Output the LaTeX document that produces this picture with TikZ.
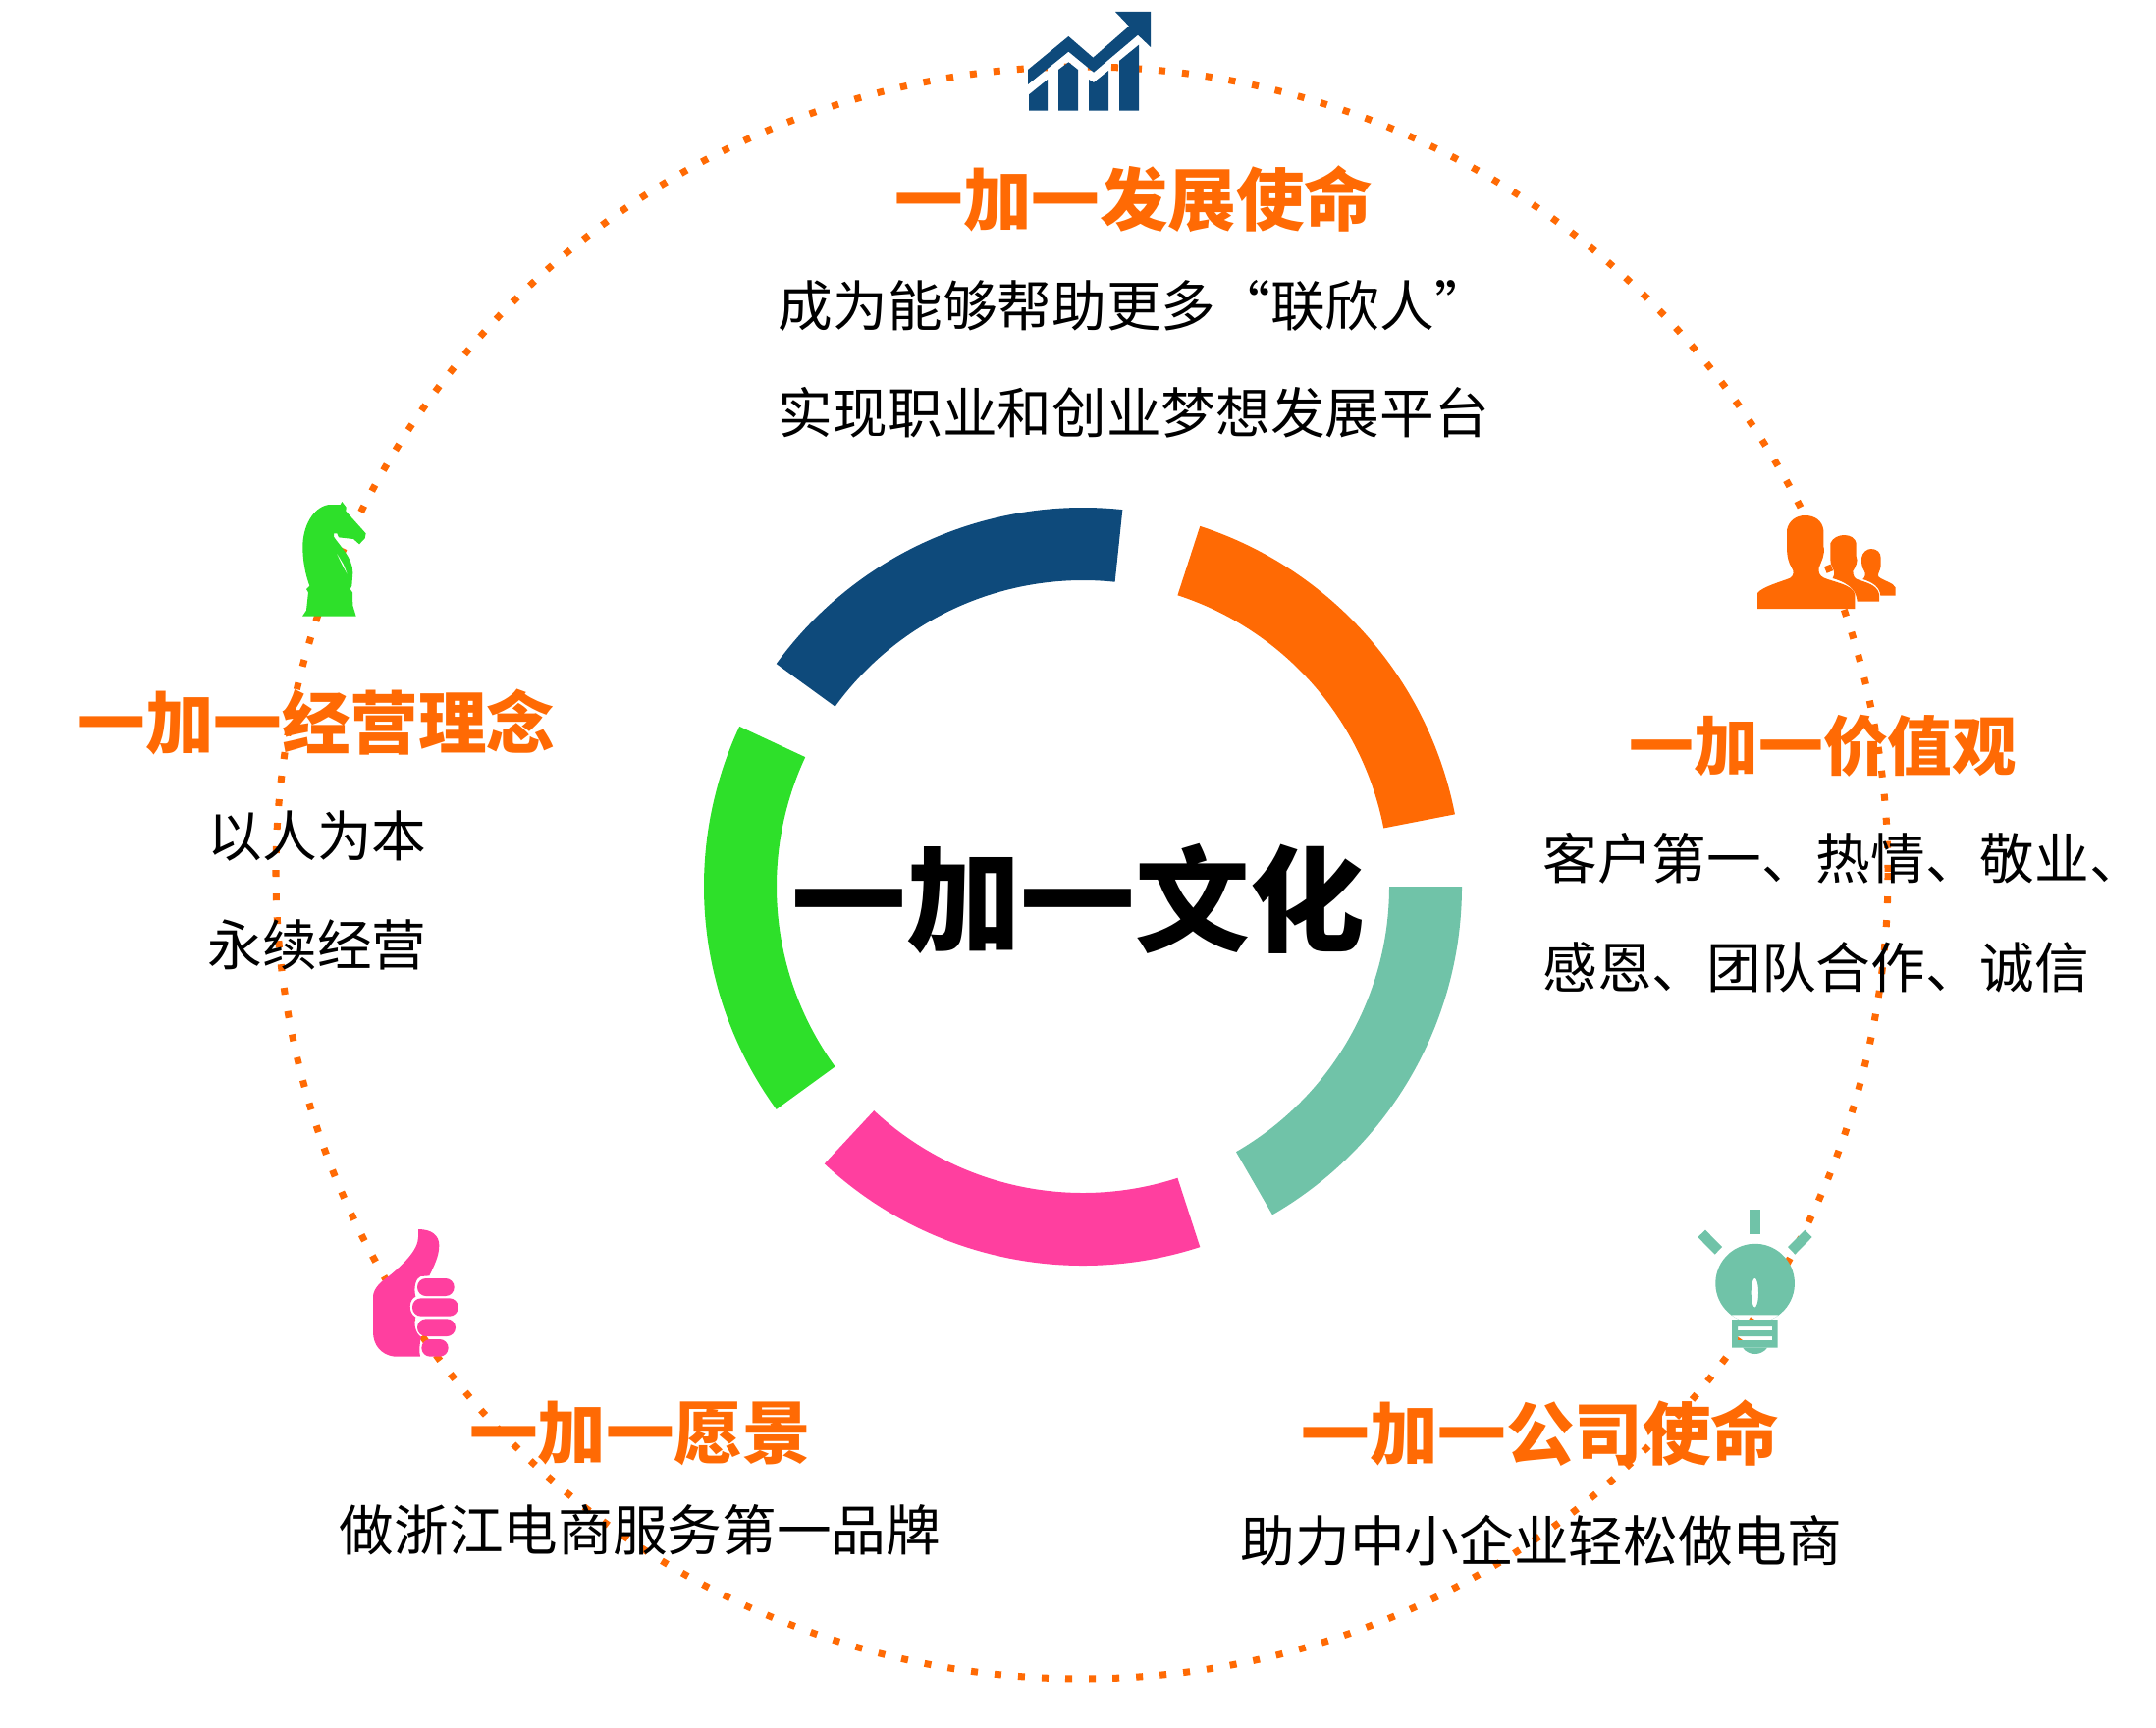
\documentclass[tikz,border=0pt]{standalone}
\usepackage{fontspec}
\newfontfamily\cjk{Noto Sans CJK SC}
\definecolor{dotorange}{HTML}{FF6A04}
\definecolor{ringblue}{HTML}{0E4A7B}
\definecolor{ringteal}{HTML}{70C3A8}
\definecolor{ringpink}{HTML}{FF3F9F}
\definecolor{ringgreen}{HTML}{2EE02A}
\tikzset{
  headtext/.style={inner sep=0pt,text=dotorange,font=\cjk\bfseries\fontsize{39.6}{48}\selectfont},
  bodytext/.style={inner sep=0pt,text=black,font=\cjk\fontsize{31.7}{38}\selectfont},
  titletext/.style={inner sep=0pt,text=black,font=\cjk\bfseries\fontsize{66.4}{80}\selectfont},
}
\begin{document}
\begin{tikzpicture}[x=.02cm,y=-.02cm]
  \useasboundingbox (0,0) rectangle (2196,1760);
  % dotted circle
  \draw[dotorange,line width=4pt,dash pattern=on 4pt off 9.7pt] (1102,889) circle[radius=821];
  % ring
  \begin{scope}[shift={(1103,903)}]
    \foreach \a/\b/\c in {11/72/dotorange,84/144/ringblue,155/216/ringgreen,227/288/ringpink,300/360/ringteal}{
      \fill[\c] (-\a:386) arc[start angle=-\a,end angle=-\b,radius=386]
        -- (-\b:312) arc[start angle=-\b,end angle=-\a,radius=312] -- cycle;
    }
  \end{scope}
  % chart icon
  \begin{scope}[shift={(1000,0)},scale=1/3]
    \fill[ringblue] (141,213) -- (265,111) -- (340,176) -- (450,80) -- (408,36) -- (516,36) -- (516,144)
      -- (477,107) -- (342,221) -- (265,158) -- (141,258) -- cycle;
    \fill[ringblue] (144,338) -- (144,289) -- (201,243) -- (201,338) -- cycle;
    \fill[ringblue] (234,338) -- (234,213) -- (265,190) -- (294,213) -- (294,338) -- cycle;
    \fill[ringblue] (327,338) -- (327,243) -- (342,252) -- (387,216) -- (387,338) -- cycle;
    \fill[ringblue] (420,338) -- (420,186) -- (480,137) -- (480,338) -- cycle;
  \end{scope}
  % people icon
  \begin{scope}[shift={(1770,510)},scale=1/3]
    \fill[dotorange] (60,330) -- (60,282) .. controls (75,262) and (140,245) .. (160,236)
      .. controls (172,228) and (172,215) .. (165,205) .. controls (155,190) and (150,170) .. (150,140)
      -- (150,90) .. controls (155,60) and (180,45) .. (205,45) .. controls (235,45) and (258,60) .. (262,90)
      -- (262,140) .. controls (268,165) and (255,185) .. (248,205) .. controls (245,220) and (252,230) .. (262,235)
      .. controls (290,248) and (350,255) .. (358,285) -- (358,330) -- cycle;
    \fill[dotorange] (365,308) .. controls (362,280) and (350,255) .. (290,237)
      .. controls (296,228) and (296,222) .. (292,210) .. controls (283,195) and (283,185) .. (283,170)
      -- (283,130) .. controls (290,112) and (310,105) .. (325,105) .. controls (345,105) and (360,115) .. (362,130)
      -- (362,170) .. controls (370,185) and (358,205) .. (352,215) .. controls (352,230) and (358,238) .. (365,240)
      .. controls (390,250) and (425,255) .. (432,285) -- (432,308) -- cycle;
    \fill[dotorange] (436,290) .. controls (434,265) and (415,250) .. (382,240)
      .. controls (390,232) and (392,222) .. (385,212) .. controls (378,200) and (378,190) .. (378,175)
      .. controls (380,158) and (395,147) .. (407,147) .. controls (425,147) and (437,158) .. (437,175)
      -- (437,200) .. controls (435,215) and (425,225) .. (430,232) .. controls (445,245) and (475,250) .. (482,265)
      -- (482,290) -- cycle;
  \end{scope}
  % bulb icon
  \begin{scope}[shift={(1710,1220)},scale=1/3]
    \fill[ringteal] (216,36) rectangle (248,110);
    \fill[ringteal] (58,120) -- (81,98) -- (132,150) -- (110,173) -- cycle;
    \fill[ringteal] (333,150) -- (385,98) -- (407,120) -- (355,173) -- cycle;
    \fill[ringteal,even odd rule] (160,358) arc[start angle=127,end angle=-307,radius=121] -- cycle
      (232,290) ellipse[x radius=11,y radius=45];
    \fill[ringteal,even odd rule] (162,372) rectangle (302,458)
      (180,393) rectangle (285,405) (180,423) rectangle (285,435);
    \fill[ringteal] (195,458) .. controls (205,472) and (220,477) .. (232,477) .. controls (245,477) and (260,472) .. (270,458) -- cycle;
  \end{scope}
  % thumb icon
  \begin{scope}[shift={(360,1240)},scale=1/3]
    \fill[ringpink] (198,36) .. controls (240,36) and (262,55) .. (262,85) .. controls (262,120) and (245,150) .. (232,178)
      -- (205,180) .. controls (190,185) and (183,215) .. (190,242) .. controls (170,250) and (165,290) .. (190,305)
      .. controls (183,325) and (190,355) .. (207,365) .. controls (202,385) and (200,410) .. (204,425)
      -- (125,425) .. controls (85,420) and (60,390) .. (60,350) -- (60,240) .. controls (62,215) and (85,195) .. (110,178)
      .. controls (150,145) and (198,100) .. (198,60) -- cycle;
    \fill[ringpink,rounded corners=5pt] (195,186) rectangle (308,240);
    \fill[ringpink,rounded corners=5pt] (180,247) rectangle (320,302);
    \fill[ringpink,rounded corners=5pt] (195,310) rectangle (312,363);
    \fill[ringpink,rounded corners=5pt] (208,372) rectangle (290,425);
  \end{scope}
  % knight icon
  \begin{scope}[shift={(290,500)},scale=1/3]
    \fill[ringgreen,even odd rule] (54,383) -- (66,365) -- (72,310) -- (66,300) -- (76,290)
      .. controls (65,260) and (55,220) .. (55,170) .. controls (55,110) and (85,50) .. (135,42)
      -- (170,42) -- (175,33) -- (188,50) -- (187,62) -- (248,130) -- (245,145) -- (228,163) -- (210,147)
      -- (165,142) -- (160,130) -- (150,130) -- (150,140) .. controls (170,170) and (208,205) .. (208,250)
      -- (205,290) -- (200,300) -- (207,310) -- (208,350) -- (218,383) -- cycle
      (155,183) -- (180,225) -- (195,262) -- (180,235) -- (165,205) -- cycle;
  \end{scope}
  % title
  \node[titletext] (title) at (1098,915) {一加一文化};
  % top block
  \node[headtext] (headtop) at (1155,203) {一加一发展使命};
  \node[bodytext] (bodytopa) at (1155,311) {成为能够帮助更多“联欣人”};
  \node[bodytext] (bodytopb) at (1155,420) {实现职业和创业梦想发展平台};
  % left block
  \node[headtext] (headleft) at (322,736) {一加一经营理念};
  \node[bodytext] (bodylefta) at (323,852) {以人为本};
  \node[bodytext] (bodyleftb) at (323,962) {永续经营};
  % right block
  \node[headtext,font=\cjk\bfseries\fontsize{37.4}{48}\selectfont] (headright) at (1857,760) {一加一价值观};
  \node[bodytext,anchor=west] (bodyrighta) at (1571,874) {客户第一、热情、敬业、};
  \node[bodytext,anchor=west] (bodyrightb) at (1571,985) {感恩、团队合作、诚信};
  % bottom blocks
  \node[headtext] (headvision) at (652,1460) {一加一愿景};
  \node[bodytext] (bodyvision) at (652,1558) {做浙江电商服务第一品牌};
  \node[headtext] (headcompany) at (1569,1460) {一加一公司使命};
  \node[bodytext] (bodycompany) at (1570,1569) {助力中小企业轻松做电商};
\end{tikzpicture}
\end{document}
